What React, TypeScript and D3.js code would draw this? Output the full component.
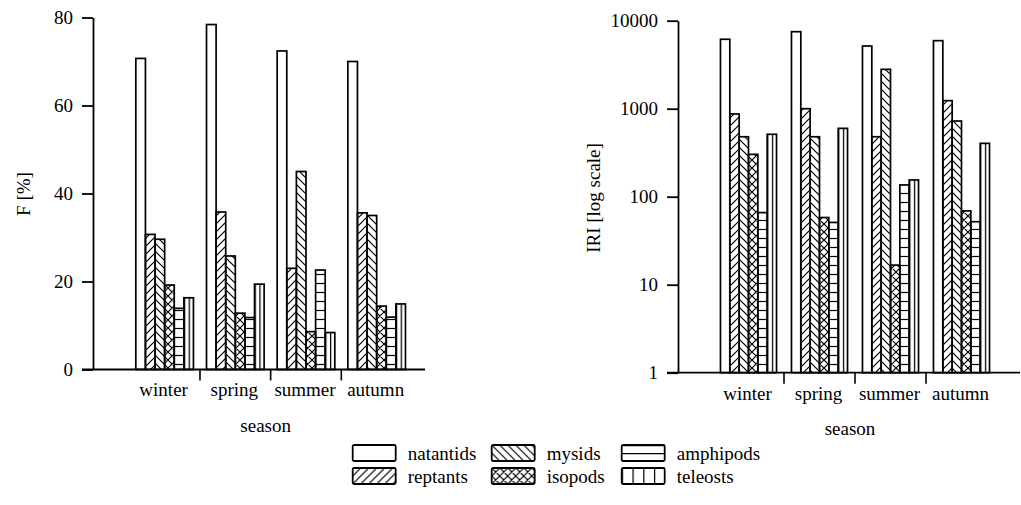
import React, { useEffect, useRef } from 'react'
import * as d3 from 'd3'

const seasons = ['winter', 'spring', 'summer', 'autumn']
const preyGroups = ['natantids', 'reptants', 'mysids', 'isopods', 'amphipods', 'teleosts']

// frequency of occurrence F [%] per season
const fNatantids = [70.7, 78.4, 72.4, 70.0]
const fReptants = [30.7, 35.8, 23.0, 35.6]
const fMysids = [29.6, 25.8, 45.0, 35.0]
const fIsopods = [19.2, 12.8, 8.6, 14.4]
const fAmphipods = [13.9, 11.8, 22.6, 11.9]
const fTeleosts = [16.3, 19.4, 8.4, 14.9]

// index of relative importance per season
const iriNatantids = [6150, 7500, 5160, 5930]
const iriReptants = [871, 1000, 480, 1235]
const iriMysids = [480, 480, 2800, 724]
const iriIsopods = [303, 58, 16.7, 69]
const iriAmphipods = [66, 51, 136, 52]
const iriTeleosts = [512, 598, 155, 404]

const fTicks = [0, 20, 40, 60, 80]
const iriTicks = [1, 10, 100, 1000, 10000]

const barFills: Record<string, string> = {
  natantids: '#fff',
  reptants: 'url(#hatch-fwd)',
  mysids: 'url(#hatch-back)',
  isopods: 'url(#hatch-cross)',
  amphipods: 'url(#hatch-horiz)',
  teleosts: 'url(#hatch-vert)'
}

const legendFills: Record<string, string> = {
  ...barFills,
  amphipods: 'url(#legend-horiz)',
  teleosts: 'url(#legend-vert)'
}

const FONT = "'Liberation Serif', 'Times New Roman', serif"

interface PanelOpts {
  values: number[][]
  y: any
  ticks: number[]
  axisX: number
  axisEnd: number
  band: [number, number]
  padOuter: number
  seasonY: number
  titleY: number
  label: string
  labelX: number
  labelY: number
}

const drawPanel = (svg: any, p: PanelOpts) => {
  const g = svg.append('g')
  const x0 = d3.scaleBand().domain(seasons).range(p.band).padding(0)
  const x1 = d3
    .scaleBand()
    .domain(preyGroups)
    .range([0, x0.bandwidth()])
    .paddingInner(0)
    .paddingOuter(p.padOuter)
  const baseY = p.y(p.ticks[0])

  // bars, one group per season
  seasons.forEach((s, si) => {
    g.append('g')
      .selectAll('rect')
      .data(preyGroups)
      .enter()
      .append('rect')
      .attr('x', (d: string) => (x0(s) ?? 0) + (x1(d) ?? 0))
      .attr('y', (d: string, i: number) => p.y(p.values[i][si]))
      .attr('width', x1.bandwidth())
      .attr('height', (d: string, i: number) => baseY - p.y(p.values[i][si]))
      .attr('fill', (d: string) => barFills[d])
      .attr('stroke', '#000')
      .attr('stroke-width', 1.7)
  })

  // y axis
  const yAxis = d3
    .axisLeft(p.y)
    .tickValues(p.ticks)
    .tickSize(11)
    .tickSizeOuter(0)
    .tickPadding(9)
    .tickFormat((d: any) => String(d))
  const ax = g.append('g').attr('transform', `translate(${p.axisX},0)`).call(yAxis)
  ax.attr('font-family', FONT).attr('font-size', 19)
  ax.selectAll('path').attr('stroke', '#000').attr('stroke-width', 1.8)
  ax.selectAll('line').attr('stroke', '#000').attr('stroke-width', 1.8)
  ax.selectAll('text').attr('fill', '#000')

  // x axis line and season separators
  g.append('line')
    .attr('x1', p.axisX - 11)
    .attr('x2', p.axisEnd)
    .attr('y1', baseY)
    .attr('y2', baseY)
    .attr('stroke', '#000')
    .attr('stroke-width', 1.8)

  g.selectAll('.sep')
    .data(seasons.slice(1))
    .enter()
    .append('line')
    .attr('x1', (d: string) => x0(d) ?? 0)
    .attr('x2', (d: string) => x0(d) ?? 0)
    .attr('y1', baseY)
    .attr('y2', baseY + 11)
    .attr('stroke', '#000')
    .attr('stroke-width', 1.6)

  g.selectAll('.season')
    .data(seasons)
    .enter()
    .append('text')
    .attr('x', (d: string) => (x0(d) ?? 0) + x0.bandwidth() / 2 - 1)
    .attr('y', p.seasonY)
    .attr('text-anchor', 'middle')
    .attr('font-family', FONT)
    .attr('font-size', 19)
    .attr('fill', '#000')
    .text((d: string) => d)

  g.append('text')
    .attr('x', (p.band[0] + p.band[1]) / 2 - 5)
    .attr('y', p.titleY)
    .attr('text-anchor', 'middle')
    .attr('font-family', FONT)
    .attr('font-size', 19)
    .attr('fill', '#000')
    .text('season')

  g.append('text')
    .attr('transform', `translate(${p.labelX},${p.labelY}) rotate(-90)`)
    .attr('text-anchor', 'middle')
    .attr('dominant-baseline', 'central')
    .attr('font-family', FONT)
    .attr('font-size', 19)
    .attr('fill', '#000')
    .text(p.label)
}

const App: React.FC = () => {
  const svgRef = useRef<SVGSVGElement>(null)

  useEffect(() => {
    if (!svgRef.current) return
    const svg = d3.select(svgRef.current)
    svg.selectAll('*').remove()

    // hatch patterns
    const defs = svg.append('defs')
    const userHatch = (id: string, w: number, h: number, d: string) =>
      defs
        .append('pattern')
        .attr('id', id)
        .attr('patternUnits', 'userSpaceOnUse')
        .attr('width', w)
        .attr('height', h)
        .append('path')
        .attr('d', d)
        .attr('stroke', '#000')
        .attr('stroke-width', 1.2)
        .attr('fill', 'none')
    const fwd = 'M-2,2 L2,-2 M0,8 L8,0 M6,10 L10,6'
    const back = 'M-2,6 L2,10 M0,0 L8,8 M6,-2 L10,2'
    userHatch('hatch-fwd', 8, 8, fwd)
    userHatch('hatch-back', 8, 8, back)
    userHatch('hatch-cross', 8, 8, fwd + ' ' + back)
    userHatch('hatch-horiz', 10, 9, 'M0,4.5 H10')

    const boxHatch = (id: string, w: number, h: number, d: string) =>
      defs
        .append('pattern')
        .attr('id', id)
        .attr('patternUnits', 'objectBoundingBox')
        .attr('patternContentUnits', 'userSpaceOnUse')
        .attr('width', w)
        .attr('height', h)
        .append('path')
        .attr('d', d)
        .attr('stroke', '#000')
        .attr('stroke-width', 1.3)
        .attr('fill', 'none')
    boxHatch('hatch-vert', 0.5, 1, 'M0.6,0 V600')
    boxHatch('legend-horiz', 1, 0.5, 'M0,0.6 H600')
    boxHatch('legend-vert', 0.25, 1, 'M0.6,0 V600')

    drawPanel(svg, {
      values: [fNatantids, fReptants, fMysids, fIsopods, fAmphipods, fTeleosts],
      y: d3.scaleLinear().domain([0, 80]).range([369.5, 17.5]),
      ticks: fTicks,
      axisX: 93,
      axisEnd: 425,
      band: [129.3, 412],
      padOuter: 0.68,
      seasonY: 396,
      titleY: 431.5,
      label: 'F [%]',
      labelX: 23,
      labelY: 194
    })

    drawPanel(svg, {
      values: [iriNatantids, iriReptants, iriMysids, iriIsopods, iriAmphipods, iriTeleosts],
      y: d3.scaleLog().domain([1, 10000]).range([372.7, 20.7]),
      ticks: iriTicks,
      axisX: 678,
      axisEnd: 1020,
      band: [713, 997],
      padOuter: 0.8,
      seasonY: 400,
      titleY: 434.5,
      label: 'IRI [log scale]',
      labelX: 593,
      labelY: 198
    })

    // legend, filled column by column
    const colX = [352.7, 491.7, 621.7]
    const rowY = [445, 468]
    const legend = svg.append('g')
    const item = legend
      .selectAll('g')
      .data(preyGroups)
      .enter()
      .append('g')
      .attr('transform', (d, i) => `translate(${colX[Math.floor(i / 2)]},${rowY[i % 2]})`)
    item
      .append('rect')
      .attr('width', 43)
      .attr('height', 16)
      .attr('rx', 1.5)
      .attr('fill', (d) => legendFills[d])
      .attr('stroke', '#000')
      .attr('stroke-width', 1.8)
    item
      .append('text')
      .attr('x', 55)
      .attr('y', 14.5)
      .attr('font-family', FONT)
      .attr('font-size', 19)
      .attr('fill', '#000')
      .text((d) => d)
  }, [])

  return (
    <svg
      ref={svgRef}
      width={1021}
      height={505}
      style={{ position: 'absolute', left: 0, top: 0, background: '#fff' }}
    ></svg>
  )
}

export default App
